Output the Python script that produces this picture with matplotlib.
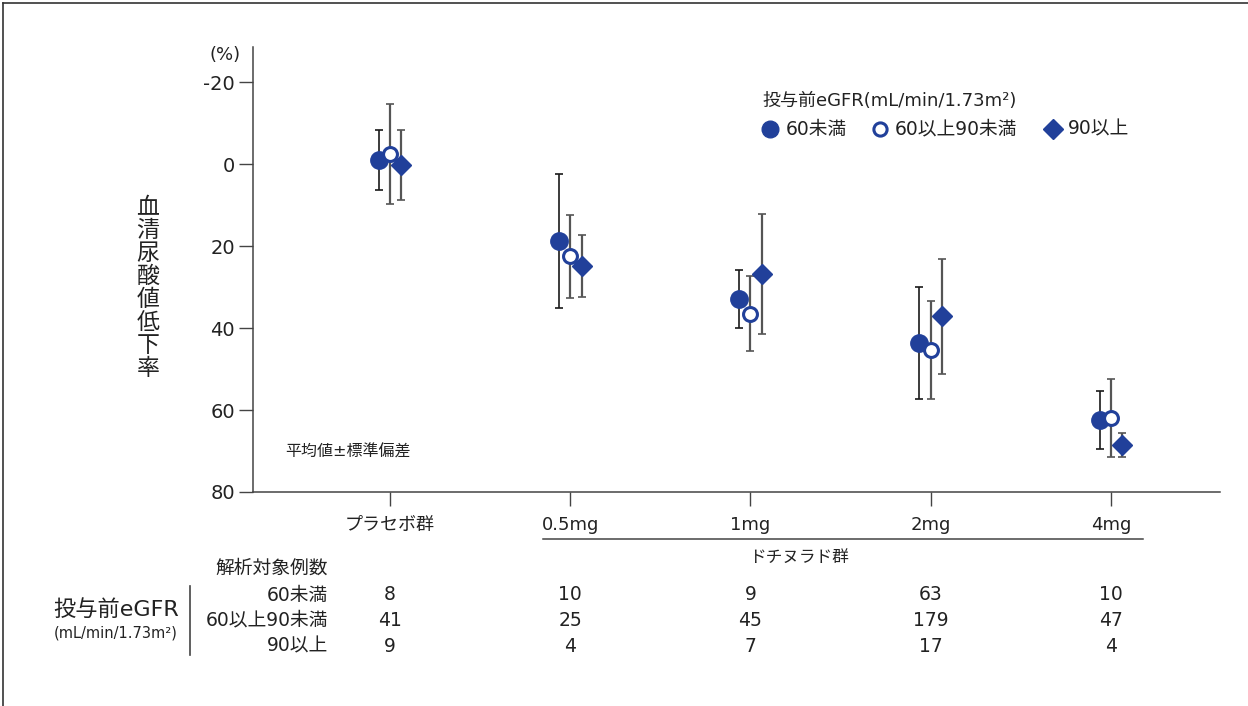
import numpy as np
import matplotlib.pyplot as plt
from matplotlib.lines import Line2D

plt.rcParams['font.family'] = ['DejaVu Sans', 'Noto Sans CJK JP']

# ---- data ----
groups = ["プラセボ群", "0.5mg", "1mg", "2mg", "4mg"]
series_labels = ["60未満", "60以上90未満", "90以上"]

mean_lt60 = [-1.0, 18.8, 32.9, 43.6, 62.4]
sd_lt60 = [7.3, 16.4, 7.0, 13.7, 7.1]
mean_60_90 = [-2.5, 22.5, 36.5, 45.3, 62.0]
sd_60_90 = [12.3, 10.1, 9.1, 12.0, 9.5]
mean_ge90 = [0.2, 24.8, 26.8, 37.1, 68.6]
sd_ge90 = [8.5, 7.6, 14.6, 14.0, 2.9]

n_lt60 = [8, 10, 9, 63, 10]
n_60_90 = [41, 25, 45, 179, 47]
n_ge90 = [9, 4, 7, 17, 4]

yticks = [-20, 0, 20, 40, 60, 80]

BLUE = "#21409a"
TXT = "#222222"
W, H = 1248, 706

fig = plt.figure(figsize=(W / 100, H / 100), dpi=100)
ax = fig.add_axes([253 / W, 1 - 492 / H, (1220 - 253) / W, (492 - 47) / H])

x = np.arange(len(groups))
off = 0.063

# ---- error bars (mean +- SD) ----
ax.errorbar(x - off, mean_lt60, yerr=sd_lt60, fmt="none", ecolor="#1a1a1a",
            elinewidth=1.2, capsize=3, capthick=1.2, zorder=2)
ax.errorbar(x, mean_60_90, yerr=sd_60_90, fmt="none", ecolor="#555555",
            elinewidth=1.6, capsize=3, capthick=1.2, zorder=2)
ax.errorbar(x + off, mean_ge90, yerr=sd_ge90, fmt="none", ecolor="#555555",
            elinewidth=1.6, capsize=3, capthick=1.2, zorder=2)

# ---- markers ----
ax.plot(x - off, mean_lt60, "o", ms=12.5, color=BLUE, mec=BLUE, ls="none",
        zorder=3)
ax.plot(x, mean_60_90, "o", ms=10, mfc="white", mec=BLUE, mew=2.2,
        ls="none", zorder=4)
ax.plot(x + off, mean_ge90, "D", ms=10.5, color=BLUE, mec=BLUE, ls="none",
        zorder=5)

ax.set_xlim(-0.76, 4.605)
ax.set_ylim(80, -28.6)
ax.set_yticks(yticks)
ax.set_yticklabels([str(v) for v in yticks], fontsize=14, color=TXT)
ax.set_xticks(x)
ax.set_xticklabels(groups, fontsize=13, color=TXT)
ax.tick_params(axis="y", length=10, width=1, color="#444444", pad=3)
ax.tick_params(axis="x", length=10, width=1, color="#444444", pad=7)
for s in ["top", "right"]:
    ax.spines[s].set_visible(False)
for s in ["left", "bottom"]:
    ax.spines[s].set_color("#444444")
    ax.spines[s].set_linewidth(1.1)

# ---- annotations ----
fig.text(225 / W, 1 - 55 / H, "(%)", fontsize=13, ha="center", va="center",
         color=TXT)
fig.text(348 / W, 1 - 452 / H, "平均値±標準偏差", fontsize=11.5, ha="center",
         va="center", color=TXT)
fig.text(148 / W, 1 - 288 / H, "\n".join("血清尿酸値低下率"), fontsize=16.5,
         ha="center", va="center", linespacing=1.0, color=TXT)

# ---- legend (manual, to match the layout) ----
fig.text(762 / W, 1 - 101 / H, "投与前eGFR(mL/min/1.73m²)", fontsize=13,
         ha="left", va="center", color=TXT)
leg_y = 1 - 129 / H
fig.add_artist(Line2D([770 / W], [leg_y], marker="o", ms=12, color=BLUE,
                      transform=fig.transFigure))
fig.text(786 / W, leg_y, series_labels[0], fontsize=13.5, ha="left",
         va="center", color=TXT)
fig.add_artist(Line2D([880 / W], [leg_y], marker="o", ms=9.5, mfc="white",
                      mec=BLUE, mew=2.2, transform=fig.transFigure))
fig.text(895 / W, leg_y, series_labels[1], fontsize=13.5, ha="left",
         va="center", color=TXT)
fig.add_artist(Line2D([1053 / W], [leg_y], marker="D", ms=10, color=BLUE,
                      transform=fig.transFigure))
fig.text(1068 / W, leg_y, series_labels[2], fontsize=13.5, ha="left",
         va="center", color=TXT)

# ---- bracket under the dotinurad doses ----
trans = ax.get_xaxis_transform()
ax.plot([0.85, 4.18], [-0.105, -0.105], color="#444444", lw=1.1,
        transform=trans, clip_on=False)
ax.text(2.27, -0.147, "ドチヌラド群", fontsize=12, ha="center", va="center",
        transform=trans, color=TXT)

# ---- table of analysed cases ----
fig.text(328 / W, 1 - 568 / H, "解析対象例数", fontsize=13.5, ha="right",
         va="center", color=TXT)
row_ys = [595, 620, 646]
for lab, ry, counts in zip(series_labels, row_ys, [n_lt60, n_60_90, n_ge90]):
    fig.text(328 / W, 1 - ry / H, lab, fontsize=13.5, ha="right", va="center",
             color=TXT)
    # numbers sit under each category: x from data coords, y in figure coords
    for xi, c in zip(x, counts):
        xfig = fig.transFigure.inverted().transform(
            ax.transData.transform((xi, 0)))[0]
        fig.text(xfig, 1 - ry / H, str(c), fontsize=13.5, ha="center",
                 va="center", color=TXT)

fig.add_artist(Line2D([190 / W, 190 / W], [1 - 586 / H, 1 - 655 / H],
                      color="#444444", lw=1.2, transform=fig.transFigure))
fig.text(116 / W, 1 - 610 / H, "投与前eGFR", fontsize=16, ha="center",
         va="center", color=TXT)
fig.text(116 / W, 1 - 633 / H, "(mL/min/1.73m²)", fontsize=10.5, ha="center",
         va="center", color=TXT)

# ---- outer frame (top and left only) ----
fig.add_artist(Line2D([3 / W, 1], [1 - 3 / H, 1 - 3 / H], color="#333333",
                      lw=1.2, transform=fig.transFigure))
fig.add_artist(Line2D([3 / W, 3 / W], [0, 1 - 3 / H], color="#333333",
                      lw=1.2, transform=fig.transFigure))

fig.savefig("out.png", dpi=100, facecolor="white")
